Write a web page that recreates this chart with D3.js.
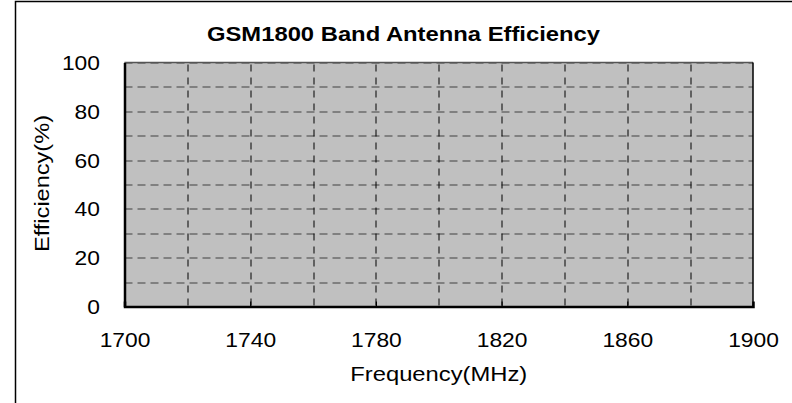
<!DOCTYPE html>
<html lang="en">
<head>
  <meta charset="UTF-8">
  <title>GSM1800 Band Antenna Efficiency</title>
  <script src="https://cdn.jsdelivr.net/npm/d3@7"></script>
  <style>
    body { margin: 0; background: #fff; }
    text { font-family: "Liberation Sans", Arial, sans-serif; fill: #000; }
  </style>
</head>
<body>
  <svg width="792" height="403" id="mainsvg"></svg>
  <script>
    // axis ticks and grid steps (the chart has no plotted series)
    const xTickValues = [1700, 1740, 1780, 1820, 1860, 1900];
    const xGridValues = [1720, 1740, 1760, 1780, 1800, 1820, 1840, 1860, 1880];
    const yTickValues = [0, 20, 40, 60, 80, 100];
    const yGridValues = [10, 20, 30, 40, 50, 60, 70, 80, 90, 100];
    const series = [];

    const svg = d3.select('#mainsvg')
    const margin = {top: 62.5, right: 39, bottom: 96.5, left: 124.5}
    const width = +svg.attr('width')
    const height = +svg.attr('height')
    const innerWidth = width - margin.left - margin.right
    const innerHeight = height - margin.top - margin.bottom

    // the fonts in the picture are drawn a bit wider than Arial
    const stretch = 1.17
    function widen(sel, k) {
      sel.each(function () {
        const len = this.getComputedTextLength()
        d3.select(this).attr('textLength', len * k).attr('lengthAdjust', 'spacingAndGlyphs')
      })
    }

    // outer chart frame (only left and top edge show)
    svg.append('path')
      .attr('d', `M15.5,403V1.5H792`)
      .attr('fill', 'none').attr('stroke', '#000').attr('stroke-width', 1.5)

    const xScale = d3.scaleLinear().domain([1700, 1900]).range([0, innerWidth])
    const yScale = d3.scaleLinear().domain([0, 100]).range([innerHeight, 0])

    const g = svg.append('g')
      .attr('transform', `translate(${margin.left},${margin.top})`)

    g.append('rect')
      .attr('width', innerWidth).attr('height', innerHeight)
      .attr('fill', '#c0c0c0')

    // horizontal dashed grid
    g.selectAll('.hgrid').data(yGridValues).join('line')
      .attr('class', 'hgrid')
      .attr('x1', 0).attr('x2', innerWidth)
      .attr('y1', d => Math.round(yScale(d)) + 0.5).attr('y2', d => Math.round(yScale(d)) + 0.5)
      .attr('stroke', '#404040').attr('stroke-width', 1.2)
      .attr('stroke-dasharray', '8,5')

    // vertical dashed grid
    g.selectAll('.vgrid').data(xGridValues).join('line')
      .attr('class', 'vgrid')
      .attr('x1', d => Math.round(xScale(d)) + 0.5).attr('x2', d => Math.round(xScale(d)) + 0.5)
      .attr('y1', 2).attr('y2', innerHeight)
      .attr('stroke', '#000').attr('stroke-width', 1)
      .attr('stroke-dasharray', '7,6')

    // plot frame
    g.append('line').attr('x1', 0).attr('x2', innerWidth).attr('y1', 0).attr('y2', 0)
      .attr('stroke', '#555').attr('stroke-width', 1.5)
    g.append('line').attr('x1', innerWidth).attr('x2', innerWidth).attr('y1', 0).attr('y2', innerHeight)
      .attr('stroke', '#000').attr('stroke-width', 1.5)

    const xAxis = d3.axisBottom(xScale).tickValues(xTickValues)
      .tickFormat(d3.format('d')).tickSize(-5).tickPadding(27)
    const xg = g.append('g').attr('transform', `translate(0,${innerHeight})`).call(xAxis)
    xg.select('.domain').attr('stroke-width', 2.5)
    xg.selectAll('.tick line').attr('stroke-width', 1.2)
    xg.selectAll('.tick').filter(d => d === 1700 || d === 1900).select('line').remove()

    const yAxis = d3.axisLeft(yScale).tickValues(yTickValues).tickSize(0).tickPadding(24.5)
    const yg = g.append('g').call(yAxis)
    yg.select('.domain').attr('stroke-width', 2.5)

    g.selectAll('.tick text')
      .attr('font-size', '19.5px')
      .attr('font-family', '"Liberation Sans", Arial, sans-serif')
    yg.selectAll('.tick text').attr('dy', '0.36em')
    widen(g.selectAll('.tick text'), stretch)

    // titles
    svg.append('text').text('GSM1800 Band Antenna Efficiency')
      .attr('x', 403.5).attr('y', 40.5)
      .attr('text-anchor', 'middle')
      .attr('font-size', '21px').attr('font-weight', 'bold')
      .attr('textLength', 393).attr('lengthAdjust', 'spacingAndGlyphs')

    svg.append('text').text('Frequency(MHz)')
      .attr('x', margin.left + innerWidth / 2).attr('y', 381)
      .attr('text-anchor', 'middle')
      .attr('font-size', '19.5px')
      .attr('textLength', 177).attr('lengthAdjust', 'spacingAndGlyphs')

    svg.append('text').text('Efficiency(%)')
      .attr('transform', `translate(49,${margin.top + innerHeight / 2 - 1}) rotate(-90)`)
      .attr('text-anchor', 'middle')
      .attr('font-size', '19.5px')
      .attr('textLength', 137).attr('lengthAdjust', 'spacingAndGlyphs')
  </script>
</body>
</html>
